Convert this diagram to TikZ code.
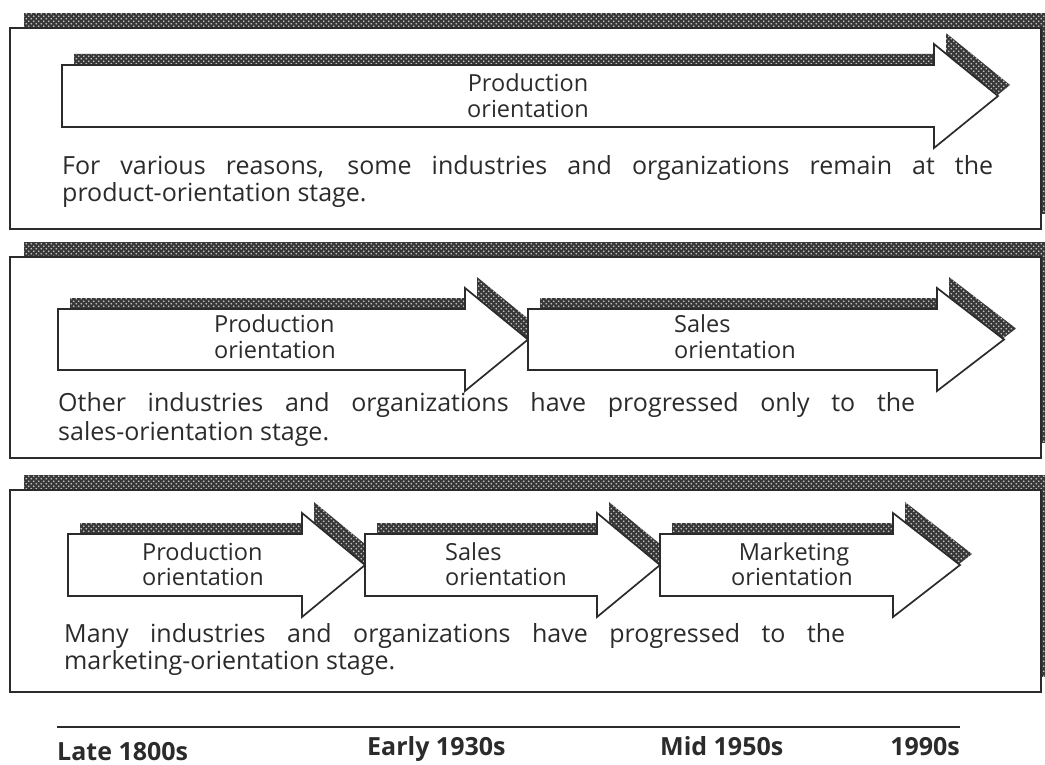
\documentclass[tikz,border=0pt]{standalone}
\usepackage{fontspec}
\setmainfont{Open Sans}
\usetikzlibrary{patterns}
\definecolor{ink}{HTML}{2B2B2B}
\definecolor{shade}{HTML}{383838}
\pgfdeclarepatternformonly{halftone}{\pgfqpoint{-1pt}{-1pt}}{\pgfqpoint{6pt}{6pt}}{\pgfqpoint{5pt}{5pt}}{%
  \pgfpathcircle{\pgfqpoint{1.25pt}{1.25pt}}{0.85pt}%
  \pgfpathcircle{\pgfqpoint{3.75pt}{3.75pt}}{0.85pt}%
  \pgfusepath{fill}}
\tikzset{
  frameline/.style={draw=ink, line width=1.8pt, fill=white},
  shadowfill/.style={fill=shade},
  dotfill/.style={pattern=halftone, pattern color=white!80!black},
  arrowline/.style={draw=ink, line width=1.7pt, fill=white, line join=miter},
  lbl/.style={font=\fontsize{23.5}{26}\selectfont, text=ink, inner sep=0pt},
  bodytext/.style={font=\fontsize{25}{27}\selectfont, text=ink, inner sep=0pt, anchor=base west},
  tllabel/.style={font=\bfseries\fontsize{25}{27}\selectfont, text=ink, inner sep=0pt},
}
% frame with offset shadow: #1 top, #2 bottom
\newcommand{\panelframe}[2]{%
  \fill[shadowfill] (24,#1-15) rectangle (1058,#2-15);
  \fill[dotfill] (24,#1-15) rectangle (1058,#2-15);
  \draw[frameline] (10,#1) rectangle (1041,#2);
}
% arrow with shadow: #1 left, #2 notch, #3 tip, #4 body top, #5 body bottom
\newcommand{\sharrow}[5]{%
  \fill[shadowfill, shift={(12,-11)}] (#1,#4) -- (#2,#4) -- (#2,#4-21) -- (#3,{(#4+#5)/2}) -- (#2,#5+21) -- (#2,#5) -- (#1,#5) -- cycle;
  \fill[dotfill, shift={(12,-11)}] (#1,#4) -- (#2,#4) -- (#2,#4-21) -- (#3,{(#4+#5)/2}) -- (#2,#5+21) -- (#2,#5) -- (#1,#5) -- cycle;
  \draw[arrowline] (#1,#4) -- (#2,#4) -- (#2,#4-21) -- (#3,{(#4+#5)/2}) -- (#2,#5+21) -- (#2,#5) -- (#1,#5) -- cycle;
}
\begin{document}
\begin{tikzpicture}[x=1pt,y=-1pt]
\useasboundingbox (0,0) rectangle (1045,765);
\clip (0,0) rectangle (1045,765);

% ---------- panel 1
\panelframe{28}{229}
\sharrow{62}{934}{998}{65}{127}
\node[lbl, anchor=base] (p1a1) at (528,92) {Production};
\node[lbl, anchor=base] (p1a2) at (528,118) {orientation};
\node[bodytext] (p1t1) at (62,175) {\makebox[931pt][s]{For various reasons, some industries and organizations remain at the}};
\node[bodytext] (p1t2) at (62,201) {product-orientation stage.};

% ---------- panel 2
\panelframe{257}{458}
\sharrow{58}{465}{528}{309}{370}
\sharrow{528}{937}{1004}{309}{370}
\node[lbl, anchor=base west] (p2a1) at (214,332) {Production};
\node[lbl, anchor=base west] (p2a2) at (214,358) {orientation};
\node[lbl, anchor=base west] (p2b1) at (674,332) {Sales};
\node[lbl, anchor=base west] (p2b2) at (674,358) {orientation};
\node[bodytext] (p2t1) at (58,411) {\makebox[857pt][s]{Other industries and organizations have progressed only to the}};
\node[bodytext] (p2t2) at (58,440) {sales-orientation stage.};

% ---------- panel 3
\panelframe{490}{692}
\sharrow{68}{302}{365}{534}{596}
\sharrow{365}{597}{660}{534}{596}
\sharrow{660}{893}{960}{534}{596}
\node[lbl, anchor=base west] (p3a1) at (142,560) {Production};
\node[lbl, anchor=base west] (p3a2) at (142,585) {orientation};
\node[lbl, anchor=base west] (p3b1) at (445,560) {Sales};
\node[lbl, anchor=base west] (p3b2) at (445,585) {orientation};
\node[lbl, anchor=base] (p3c1) at (794,560) {Marketing};
\node[lbl, anchor=base] (p3c2) at (792,585) {orientation};
\node[bodytext] (p3t1) at (64,642) {\makebox[781pt][s]{Many industries and organizations have progressed to the}};
\node[bodytext] (p3t2) at (64,669) {marketing-orientation stage.};

% ---------- timeline
\coordinate (tlL) at (57,727);
\coordinate (tlR) at (960,727);
\draw[ink, line width=1.5pt] (tlL) -- (tlR);
\node[tllabel, anchor=base west] (late) at (57,760) {Late 1800s};
\node[tllabel, anchor=base west] (early) at (367,755) {Early 1930s};
\node[tllabel, anchor=base west] (mid) at (660,755) {Mid 1950s};
\node[tllabel, anchor=base east] (nineties) at (960,755) {1990s};
\end{tikzpicture}
\end{document}
